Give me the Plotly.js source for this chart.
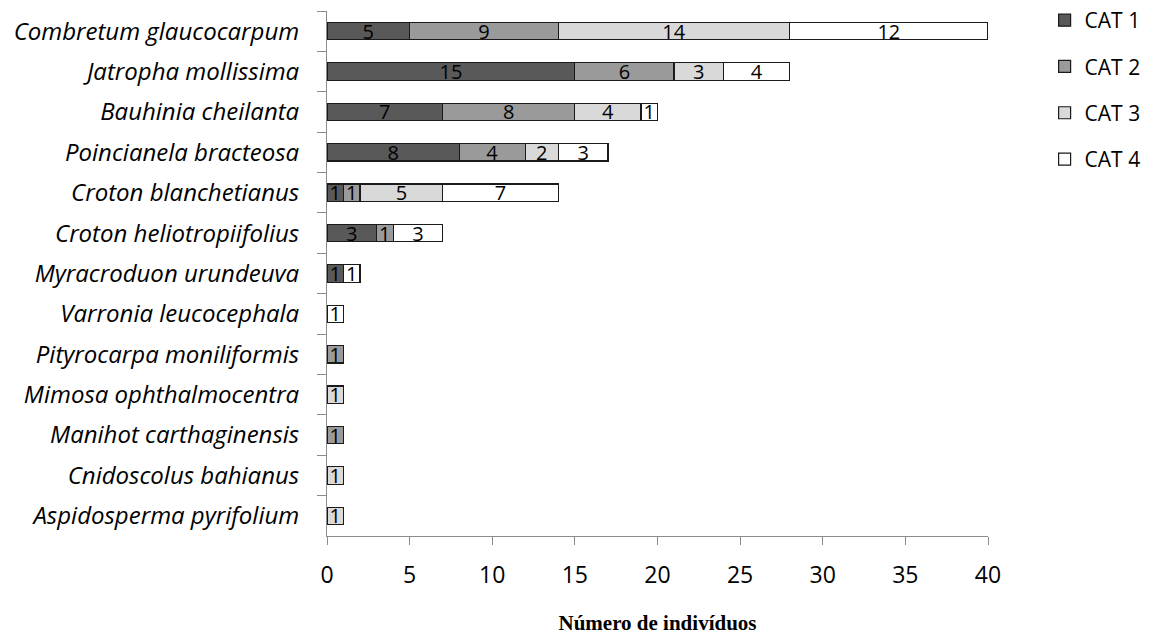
<!DOCTYPE html>
<html>
<head>
<meta charset="utf-8">
<script src="https://cdn.plot.ly/plotly-3.0.1.min.js"></script>
<style>html,body{margin:0;padding:0;background:#fff;}#chart{width:1153px;height:638px;}</style>
</head>
<body>
<div id="chart"></div>
<script>
const species = [
  "Combretum glaucocarpum",
  "Jatropha mollissima",
  "Bauhinia cheilanta",
  "Poincianela bracteosa",
  "Croton blanchetianus",
  "Croton heliotropiifolius",
  "Myracroduon urundeuva",
  "Varronia leucocephala",
  "Pityrocarpa moniliformis",
  "Mimosa ophthalmocentra",
  "Manihot carthaginensis",
  "Cnidoscolus bahianus",
  "Aspidosperma pyrifolium"
];
const seriesNames = ["CAT 1", "CAT 2", "CAT 3", "CAT 4"];
const cat1 = [5, 15, 7, 8, 1, 3, 1, 0, 0, 0, 0, 0, 0];
const cat2 = [9, 6, 8, 4, 1, 1, 0, 0, 1, 0, 1, 0, 0];
const cat3 = [14, 3, 4, 2, 5, 0, 0, 0, 0, 1, 0, 1, 1];
const cat4 = [12, 4, 1, 3, 7, 3, 1, 1, 0, 0, 0, 0, 0];
const xTicks = [0, 5, 10, 15, 20, 25, 30, 35, 40];
const colors = ["#595959", "#9a9a9a", "#d9d9d9", "#ffffff"];

const allSeries = [cat1, cat2, cat3, cat4];
const traces = allSeries.map((vals, i) => ({
  type: "bar",
  orientation: "h",
  name: seriesNames[i],
  legendgroup: "g" + i,
  y: species,
  x: vals.map(v => v > 0 ? v : null),
  text: vals.map(v => v > 0 ? String(v) : ""),
  textposition: "inside",
  insidetextanchor: "middle",
  textangle: 0,
  constraintext: "none",
  textfont: {family: "Open Sans, sans-serif", size: 20, color: "#000"},
  marker: {color: colors[i], line: {color: "#1a1a1a", width: 1.2}},
  hoverinfo: "none"
}));

const layout = {
  width: 1153, height: 638,
  margin: {l: 327, r: 165, t: 11, b: 102, autoexpand: false},
  paper_bgcolor: "#fff", plot_bgcolor: "#fff",
  barmode: "stack",
  bargap: 0.57,
  showlegend: true,
  legend: {
    xref: "container", yref: "container",
    x: 0.906, xanchor: "left", y: 1.0, yanchor: "top",
    traceorder: "grouped", tracegroupgap: 16,
    font: {family: "Open Sans, sans-serif", size: 21, color: "#000"},
    itemwidth: 30
  },
  xaxis: {
    range: [0, 40], tickvals: xTicks, ticktext: xTicks.map(String),
    showgrid: false, zeroline: false,
    showline: true, linecolor: "#8c8c8c", linewidth: 1,
    ticks: "outside", ticklen: 8, tickcolor: "#8c8c8c",
    tickfont: {family: "Open Sans, sans-serif", size: 23, color: "#000"},
    ticklabelstandoff: 10,
    title: {text: "Número de indivíduos", standoff: 26,
      font: {family: "Liberation Serif, Times New Roman, serif", size: 21, color: "#000", weight: "bold"}}
  },
  yaxis: {
    type: "category", autorange: "reversed",
    showgrid: false, zeroline: false,
    showline: true, linecolor: "#8c8c8c", linewidth: 1,
    ticks: "outside", ticklen: 9, tickcolor: "#8c8c8c", tickson: "boundaries",
    tickfont: {family: "Open Sans, sans-serif", size: 24, color: "#000", style: "italic"},
    ticklabelstandoff: 22
  }
};

Plotly.newPlot("chart", traces, layout, {staticPlot: true, displayModeBar: false});
</script>
</body>
</html>
